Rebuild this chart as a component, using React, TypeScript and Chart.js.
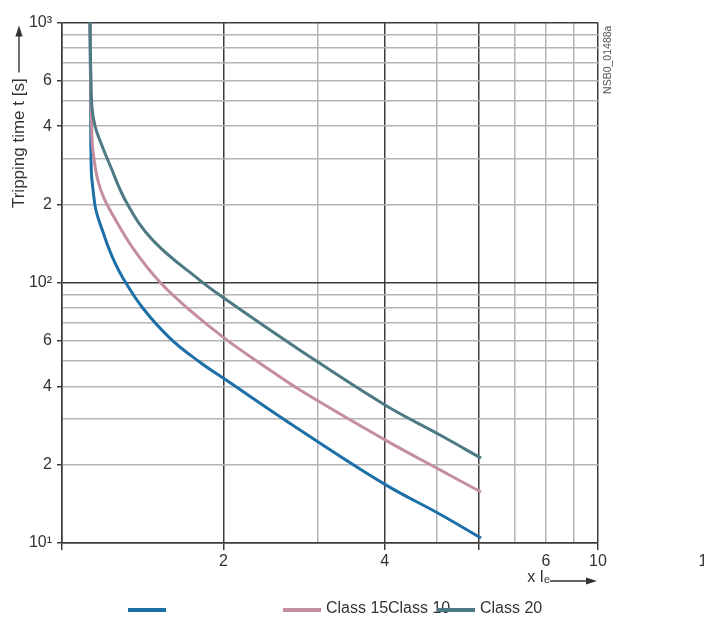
import React, { useEffect, useRef } from "react";
import { Chart, registerables } from "chart.js";

Chart.register(...registerables);

// ---------------- data ----------------
const seriesNames = ["Class 10", "Class 15", "Class 20"];

const class10X = [1.128, 1.131, 1.134, 1.143, 1.157, 1.193, 1.24, 1.3, 1.416, 1.591, 1.809, 2.014, 2.78, 4.005, 5.072, 6.05];
const class10Y = [1000, 500, 270, 226.5, 190, 156.3, 126.4, 104.1, 79.8, 61.2, 49.5, 42.6, 27.2, 16.8, 12.9, 10.45];

const class15X = [1.128, 1.132, 1.138, 1.147, 1.167, 1.198, 1.245, 1.357, 1.524, 1.733, 2.032, 2.341, 2.78, 4.005, 5.072, 6.05];
const class15Y = [1000, 550, 352, 301, 247, 211, 181.6, 135.6, 100.4, 78.4, 60.2, 49.1, 38.7, 24.9, 19.1, 15.7];

const class20X = [1.128, 1.132, 1.138, 1.152, 1.177, 1.229, 1.322, 1.478, 1.809, 2.032, 2.78, 4.005, 5.072, 6.05];
const class20Y = [1000, 620, 468, 402, 352, 283, 202, 145.6, 102.2, 85.7, 55.1, 33.9, 26.0, 21.2];

const xTickValues = [1, 2, 3, 4, 5, 6, 7, 8, 9, 10, 15.7];
const xTickLabels = ["", "2", "", "4", "", "", "", "6", "", "10", "1"];
const xDarkLines = [1, 2, 4, 6, 10];

const yTickValues = [10, 20, 30, 40, 50, 60, 70, 80, 90, 100, 200, 300, 400, 500, 600, 700, 800, 900, 1000];
const yTickLabels = ["10\u00B9", "2", "", "4", "", "6", "", "", "", "10\u00B2", "2", "", "4", "", "6", "", "", "", "10\u00B3"];
const yDarkLines = [10, 100, 1000];

const yTitle = "Tripping time t [s]";
const xTitle = "x I\u2091";
const drawingNumber = "NSB0_01488a";

// ---------------- styles ----------------
const FONT = "'Liberation Sans', Arial, sans-serif";
const TEXT = "#333333";
const DARK = "#3c3c3c";
const GREY = "#b4b4b4";
const NONE = "rgba(0,0,0,0)";
const COLORS = ["#1d6fa8", "#c48e9f", "#4d7a84"];

const near = (a: number, b: number) => Math.abs(a - b) < 1e-6 * Math.max(1, Math.abs(b));

function drawArrow(ctx: CanvasRenderingContext2D, x1: number, y1: number, x2: number, y2: number) {
  const ang = Math.atan2(y2 - y1, x2 - x1);
  const head = 11;
  const half = 3.6;
  ctx.strokeStyle = TEXT;
  ctx.fillStyle = TEXT;
  ctx.lineWidth = 1.4;
  ctx.beginPath();
  ctx.moveTo(x1, y1);
  ctx.lineTo(x2 - Math.cos(ang) * head * 0.8, y2 - Math.sin(ang) * head * 0.8);
  ctx.stroke();
  ctx.beginPath();
  ctx.moveTo(x2, y2);
  ctx.lineTo(x2 - Math.cos(ang) * head - Math.sin(ang) * half, y2 - Math.sin(ang) * head + Math.cos(ang) * half);
  ctx.lineTo(x2 - Math.cos(ang) * head + Math.sin(ang) * half, y2 - Math.sin(ang) * head - Math.cos(ang) * half);
  ctx.closePath();
  ctx.fill();
}

const legendLine = [
  { x: 120, len: 38 },
  { x: 275, len: 38 },
  { x: 429, len: 38 },
];
const legendTextX = [380, 318, 472];

const overlayPlugin = {
  id: "overlay",
  afterDraw(chart: any) {
    const { ctx, chartArea: a, scales } = chart;
    ctx.save();
    // axis title arrows
    const ax = scales.y.left + 11;
    drawArrow(ctx, ax, a.top + 50, ax, a.top + 3);
    const ay = a.bottom + 38;
    drawArrow(ctx, a.right - 48, ay, a.right - 1, ay);

    // drawing number
    ctx.save();
    ctx.translate(a.right + 10, a.top + 3);
    ctx.rotate(-Math.PI / 2);
    ctx.font = `10.5px ${FONT}`;
    ctx.fillStyle = "#555555";
    ctx.textAlign = "right";
    ctx.textBaseline = "middle";
    ctx.fillText(drawingNumber, 0, 0);
    ctx.restore();

    // legend
    ctx.font = `16px ${FONT}`;
    ctx.fillStyle = TEXT;
    ctx.textAlign = "left";
    ctx.textBaseline = "middle";
    chart.data.datasets.forEach((ds: any, i: number) => {
      ctx.fillText(ds.label, legendTextX[i], 601);
    });
    chart.data.datasets.forEach((ds: any, i: number) => {
      ctx.fillStyle = ds.borderColor;
      ctx.fillRect(legendLine[i].x, 600, legendLine[i].len, 4);
    });
    ctx.restore();
  },
};

export default function App() {
  const ref = useRef<HTMLCanvasElement>(null);

  useEffect(() => {
    const series = [
      { xs: class10X, ys: class10Y },
      { xs: class15X, ys: class15Y },
      { xs: class20X, ys: class20Y },
    ];
    const chart = new Chart(ref.current as HTMLCanvasElement, {
      type: "line",
      data: {
        datasets: series.map((s, i) => ({
          label: seriesNames[i],
          data: s.xs.map((x, j) => ({ x, y: s.ys[j] })),
          borderColor: COLORS[i],
          backgroundColor: COLORS[i],
          borderWidth: 3,
          pointRadius: 0,
          fill: false,
          tension: 0.4,
          order: 2 - i,
        })),
      },
      options: {
        animation: false,
        responsive: false,
        maintainAspectRatio: false,
        layout: { padding: { left: 0, right: 106, top: 14, bottom: 22 } },
        font: { family: FONT, size: 16 },
        plugins: { legend: { display: false }, tooltip: { enabled: false } },
        scales: {
          x: {
            type: "logarithmic",
            min: 1,
            max: 10,
            afterBuildTicks: (scale: any) => {
              scale.ticks = xTickValues.map((v) => ({ value: v }));
            },
            afterFit: (scale: any) => {
              scale.height = 50;
            },
            ticks: {
              autoSkip: false,
              maxRotation: 0,
              minRotation: 0,
              padding: 2,
              color: TEXT,
              font: { family: FONT, size: 16 },
              callback: (_v: any, i: number) => xTickLabels[i],
            },
            grid: {
              color: (c: any) =>
                c.tick.value > 10.001 ? NONE : xDarkLines.some((d) => near(c.tick.value, d)) ? DARK : GREY,
              lineWidth: 1.5,
              tickLength: 7,
              tickColor: (c: any) => (xDarkLines.some((d) => near(c.tick.value, d)) ? DARK : NONE),
            },
            border: { display: true, color: DARK, width: 1.5 },
            title: {
              display: true,
              text: xTitle + "\u2002\u2002\u2002\u2002\u2002\u2002",
              align: "end",
              color: TEXT,
              font: { family: FONT, size: 16 },
              padding: { top: 0, bottom: 6 },
            },
          },
          y: {
            type: "logarithmic",
            min: 10,
            max: 1000,
            afterBuildTicks: (scale: any) => {
              scale.ticks = yTickValues.map((v) => ({ value: v }));
            },
            afterFit: (scale: any) => {
              scale.width = 54;
            },
            ticks: {
              autoSkip: false,
              padding: 5,
              color: TEXT,
              font: { family: FONT, size: 16 },
              callback: (_v: any, i: number) => yTickLabels[i],
            },
            grid: {
              color: (c: any) => (yDarkLines.some((d) => near(c.tick.value, d)) ? DARK : GREY),
              lineWidth: 1.5,
              tickLength: 5,
              tickColor: (c: any) => (yTickLabels[c.index] ? DARK : NONE),
            },
            border: { display: true, color: DARK, width: 1.5 },
            title: {
              display: true,
              text: yTitle + "\u2002\u2002\u2002\u2002\u2002\u2002 ",
              align: "end",
              color: TEXT,
              font: { family: FONT, size: 17 },
              padding: { top: 1, bottom: 0 },
            },
          },
        },
      } as any,
      plugins: [overlayPlugin],
    });
    return () => chart.destroy();
  }, []);

  return (
    <div style={{ width: 696, height: 607 }}>
      <canvas ref={ref} width={696} height={607} style={{ display: "block" }} />
    </div>
  );
}
